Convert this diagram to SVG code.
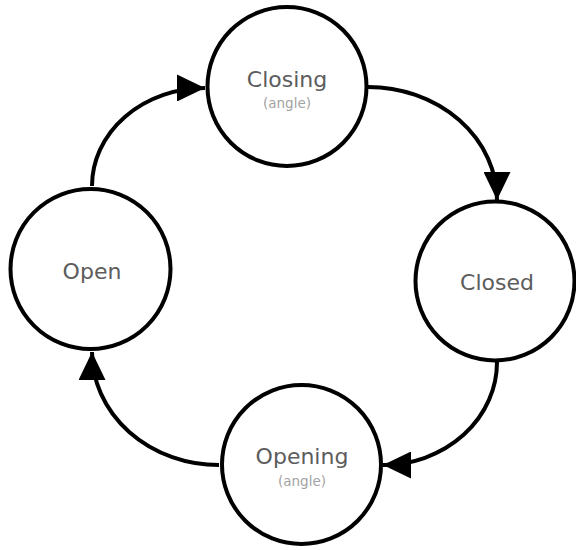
<svg xmlns="http://www.w3.org/2000/svg" width="576" height="550" viewBox="0 0 576 550">
  <defs>
    <marker id="arrow" viewBox="0 0 28 27" refX="28" refY="13.5" markerWidth="28" markerHeight="27" markerUnits="userSpaceOnUse" orient="auto">
      <path d="M0,0 L28,13.5 L0,27 Z" fill="#000"/>
    </marker>
    <style>
      .node circle { fill: #fff; stroke: #000; stroke-width: 4; }
      .label { font-family: "DejaVu Sans", Verdana, sans-serif; font-size: 22px; fill: #5c5c5c; text-anchor: middle; }
      .sub { font-family: "DejaVu Sans", Verdana, sans-serif; font-size: 13.5px; fill: #a3a3a3; text-anchor: middle; }
      .edge { fill: none; stroke: #000; stroke-width: 4; marker-end: url(#arrow); }
    </style>
  </defs>
  <rect width="576" height="550" fill="#fff"/>
  <g id="connectors">
    <path class="edge" d="M92,186 A113,98 0 0 1 205,88"/>
    <path class="edge" d="M368,87 A129,113 0 0 1 497,200"/>
    <path class="edge" d="M497,362 A114,103 0 0 1 383,465"/>
    <path class="edge" d="M219,465 A127,113 0 0 1 92,352"/>
  </g>
  <g id="node-closing" class="node">
    <circle cx="287" cy="86.5" r="79.5"/>
    <text class="label" x="287" y="87">Closing</text>
    <text class="sub" x="287" y="108">(angle)</text>
  </g>
  <g id="node-open" class="node">
    <circle cx="90.5" cy="269" r="80"/>
    <text class="label" x="92" y="279">Open</text>
  </g>
  <g id="node-closed" class="node">
    <circle cx="495" cy="281" r="79.5"/>
    <text class="label" x="497" y="290">Closed</text>
  </g>
  <g id="node-opening" class="node">
    <circle cx="301.5" cy="464.5" r="79.5"/>
    <text class="label" x="302" y="464">Opening</text>
    <text class="sub" x="302" y="486">(angle)</text>
  </g>
</svg>
